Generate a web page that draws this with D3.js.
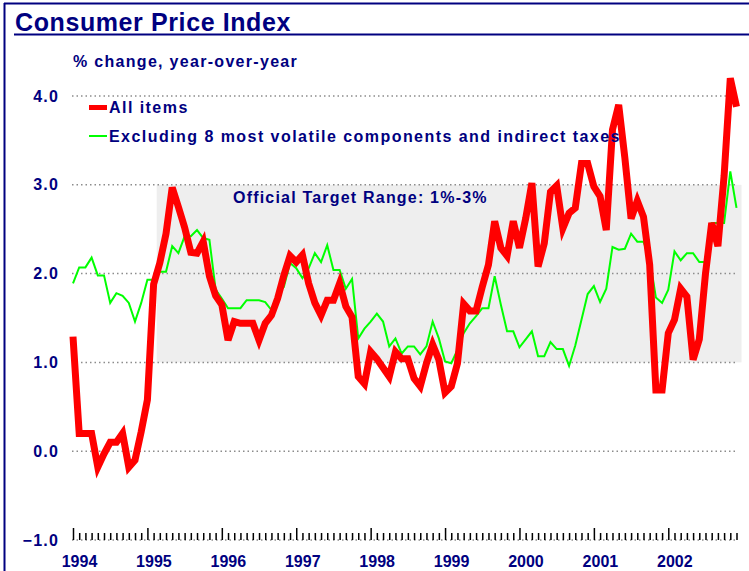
<!DOCTYPE html>
<html>
<head>
<meta charset="utf-8">
<script src="https://cdnjs.cloudflare.com/ajax/libs/d3/7.8.5/d3.min.js"></script>
<style>
    body { margin: 0; background: #fff; }
    text { font-family: "Liberation Sans", Arial, sans-serif; font-weight: bold; fill: #000080; }
</style>
</head>
<body>
<div id="chart"></div>
<script>
// year-over-year % change, monthly Jan 1994 - Dec 2002
var yearLabels = ["1994", "1995", "1996", "1997", "1998", "1999", "2000", "2001", "2002"];
var yTicks = [-1, 0, 1, 2, 3, 4];
var targetRange = [1, 3];
var targetStart = 13.5; // months after Jan 1994 when the band begins

var allItems = [
    1.29, 0.20, 0.20, 0.20, -0.18, -0.03, 0.10, 0.10, 0.20, -0.18, -0.10, 0.22,
    0.58, 1.88, 2.12, 2.45, 2.97, 2.75, 2.52, 2.24, 2.23, 2.36, 1.97, 1.75,
    1.65, 1.25, 1.46, 1.44, 1.44, 1.44, 1.25, 1.44, 1.53, 1.72, 1.98, 2.20,
    2.13, 2.21, 1.89, 1.67, 1.53, 1.70, 1.70, 1.89, 1.63, 1.51, 0.84, 0.76,
    1.12, 1.04, 0.94, 0.84, 1.12, 1.04, 1.04, 0.82, 0.73, 0.99, 1.20, 1.03,
    0.66, 0.73, 0.99, 1.66, 1.58, 1.58, 1.85, 2.10, 2.59, 2.29, 2.20, 2.59,
    2.29, 2.62, 3.02, 2.08, 2.34, 2.92, 2.99, 2.51, 2.68, 2.74, 3.24, 3.24,
    2.98, 2.87, 2.49, 3.62, 3.90, 3.30, 2.62, 2.82, 2.64, 2.10, 0.69, 0.69,
    1.33, 1.48, 1.83, 1.74, 1.03, 1.26, 2.00, 2.57, 2.31, 3.10, 4.20, 3.88
];

var excludingVolatile = [
    1.89, 2.07, 2.07, 2.18, 1.98, 1.98, 1.67, 1.78, 1.75, 1.67, 1.46, 1.67,
    1.93, 1.93, 2.02, 2.02, 2.31, 2.23, 2.42, 2.42, 2.49, 2.40, 2.38, 1.82,
    1.72, 1.61, 1.61, 1.61, 1.70, 1.70, 1.70, 1.68, 1.59, 1.78, 1.85, 2.12,
    2.06, 1.95, 2.06, 2.23, 2.13, 2.32, 2.04, 2.04, 1.83, 1.94, 1.27, 1.38,
    1.46, 1.55, 1.46, 1.18, 1.27, 1.10, 1.18, 1.18, 1.09, 1.18, 1.46, 1.27,
    1.01, 0.99, 1.14, 1.33, 1.44, 1.52, 1.61, 1.61, 1.97, 1.65, 1.35, 1.35,
    1.17, 1.26, 1.35, 1.07, 1.07, 1.23, 1.15, 1.15, 0.96, 1.19, 1.48, 1.77,
    1.86, 1.68, 1.83, 2.30, 2.27, 2.28, 2.45, 2.36, 2.36, 2.17, 1.73, 1.67,
    1.82, 2.25, 2.15, 2.23, 2.23, 2.13, 2.13, 2.57, 2.57, 2.57, 3.15, 2.74
];

var seriesNames = ["All items", "Excluding 8 most volatile components and indirect taxes"];

var width = 749, height = 571;
var navy = "#000080";

var svg = d3.select("#chart").append("svg")
    .attr("width", width)
    .attr("height", height);

var months = d3.range(allItems.length);

var x = d3.scaleLinear()
    .domain([0, months.length - 1])
    .range([73, 736.5]);

var y = d3.scaleLinear()
    .domain([-1, 4])
    .range([540, 96]);

// frame + title
svg.append("line").attr("x1", 4.5).attr("x2", 4.5).attr("y1", 3).attr("y2", height)
    .attr("stroke", navy).attr("stroke-width", 2);
svg.append("line").attr("x1", 4).attr("x2", width).attr("y1", 3.5).attr("y2", 3.5)
    .attr("stroke", navy).attr("stroke-width", 2);
svg.append("line").attr("x1", 14).attr("x2", width).attr("y1", 34.5).attr("y2", 34.5)
    .attr("stroke", navy).attr("stroke-width", 2);

svg.append("text")
    .attr("x", 15)
    .attr("y", 31)
    .attr("font-size", "25px")
    .attr("letter-spacing", "0.6px")
    .text("Consumer Price Index");

svg.append("text")
    .attr("x", 73)
    .attr("y", 67)
    .attr("font-size", "16px")
    .attr("letter-spacing", "1.3px")
    .text("% change, year-over-year");

// target band
svg.append("rect")
    .attr("x", x(targetStart))
    .attr("y", y(targetRange[1]))
    .attr("width", x.range()[1] + 5 - x(targetStart))
    .attr("height", y(targetRange[0]) - y(targetRange[1]))
    .attr("fill", "#eeeeee");

// dotted gridlines
svg.append("g")
    .selectAll("line")
    .data(yTicks)
    .enter().append("line")
    .attr("x1", 72)
    .attr("x2", x.range()[1])
    .attr("y1", function(d) { return y(d); })
    .attr("y2", function(d) { return y(d); })
    .attr("stroke", "#8c8c8c")
    .attr("stroke-width", 1.5)
    .attr("stroke-dasharray", "1.5,3");

svg.append("text")
    .attr("x", 233)
    .attr("y", 203)
    .attr("font-size", "16px")
    .attr("letter-spacing", "1.2px")
    .text("Official Target Range: " + targetRange[0] + "%-" + targetRange[1] + "%");

// y axis labels
var yAxis = d3.axisLeft(y)
    .tickValues(yTicks)
    .tickSize(0)
    .tickPadding(14)
    .tickFormat(d3.format(".1f"));

var yG = svg.append("g")
    .attr("transform", "translate(73,0)")
    .call(yAxis);
yG.select(".domain").remove();
yG.selectAll("text")
    .attr("font-size", "16px")
    .attr("letter-spacing", "1.2px")
    .attr("font-family", null)
    .attr("fill", null);

// x axis: monthly ticks, tall ones at January
var xAxis = d3.axisBottom(x)
    .tickValues(months)
    .tickSize(-7)
    .tickPadding(16)
    .tickFormat(function(d) { return d % 12 === 0 ? yearLabels[d / 12] : ""; });

var xG = svg.append("g")
    .attr("transform", "translate(0," + y(-1) + ")")
    .call(xAxis);
xG.select(".domain").remove();
xG.selectAll(".tick line")
    .attr("stroke", "#000")
    .attr("stroke-width", 1.5)
    .attr("y2", function(d) { return d % 12 === 0 ? -12 : -7; });
xG.selectAll(".tick text")
    .attr("dx", 6)
    .attr("font-size", "16px")
    .attr("font-family", null)
    .attr("fill", null);

// lines
var line = d3.line()
    .x(function(d, i) { return x(i); })
    .y(function(d) { return y(d); });

svg.append("path")
    .datum(excludingVolatile)
    .attr("fill", "none")
    .attr("stroke", "#00ff00")
    .attr("stroke-width", 2)
    .attr("d", line);

svg.append("path")
    .datum(allItems)
    .attr("fill", "none")
    .attr("stroke", "#ff0000")
    .attr("stroke-width", 7)
    .attr("stroke-linejoin", "miter")
    .attr("d", line);

// legend
var legend = svg.append("g")
    .attr("transform", "translate(89,107.5)");

var legendRow = legend.selectAll(".legendRow")
    .data(seriesNames)
    .enter().append("g")
    .attr("class", "legendRow")
    .attr("transform", function(d, i) { return "translate(0," + (i * 28.5) + ")"; });

legendRow.append("line")
    .attr("x1", 0)
    .attr("x2", 18)
    .attr("stroke", function(d, i) { return i === 0 ? "#ff0000" : "#00ff00"; })
    .attr("stroke-width", function(d, i) { return i === 0 ? 5 : 2; });

legendRow.append("text")
    .attr("x", 20)
    .attr("y", 5.5)
    .attr("font-size", "16px")
    .attr("letter-spacing", "1.45px")
    .text(function(d) { return d; });
</script>
</body>
</html>
